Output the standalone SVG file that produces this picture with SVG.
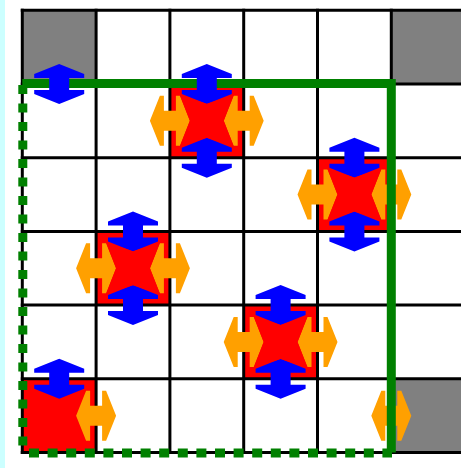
<svg xmlns="http://www.w3.org/2000/svg" xmlns:xlink="http://www.w3.org/1999/xlink" width="461" height="468" viewBox="0 0 461 468">
  <style>
    .gl { stroke: #000; stroke-width: 3; stroke-linecap: square; }
    .gray { fill: #808080; }
    .red { fill: #ff0000; }
    .blue { fill: #0000ff; }
    .orange { fill: #ffa000; }
    .path { fill: none; stroke: #008000; stroke-width: 9; stroke-linejoin: miter; }
  </style>
  <defs>
    <polygon id="av" points="0,-20 25,-10 25,-6 10,-6 10,6 25,6 25,10 0,20 -25,10 -25,6 -10,6 -10,-6 -25,-6 -25,-10"/>
    <polygon id="ah" points="-20,0 -10,-25 -6,-25 -6,-10 6,-10 6,-25 10,-25 20,0 10,25 6,25 6,10 -6,10 -6,25 -10,25"/>
    <polygon id="star" points="-27,-26 0,-17 27,-26 17,0 27,26 0,17 -27,26 -17,0"/>
  </defs>
  <rect x="0" y="0" width="461" height="468" fill="#ffffff"/>
  <rect x="0" y="0" width="5" height="468" fill="#ccffff"/>

  <g id="cells">
    <rect id="cell-0-0" class="gray" x="22.3" y="10.3" width="73.8" height="73.7"/>
    <rect id="cell-5-0" class="gray" x="391.3" y="10.3" width="73.8" height="73.7"/>
    <rect id="cell-5-5" class="gray" x="391.3" y="378.8" width="73.8" height="73.7"/>
    <rect id="cell-2-1" class="red" x="169.9" y="84" width="73.8" height="73.7"/>
    <rect id="cell-4-2" class="red" x="317.5" y="157.7" width="73.8" height="73.7"/>
    <rect id="cell-1-3" class="red" x="96.1" y="231.4" width="73.8" height="73.7"/>
    <rect id="cell-3-4" class="red" x="243.7" y="305.1" width="73.8" height="73.7"/>
    <rect id="cell-0-5" class="red" x="22.3" y="378.8" width="73.8" height="73.7"/>
  </g>

  <g id="grid">
    <line class="gl" x1="22.3" y1="10.3" x2="22.3" y2="452.5"/>
    <line class="gl" x1="96.1" y1="10.3" x2="96.1" y2="452.5"/>
    <line class="gl" x1="169.9" y1="10.3" x2="169.9" y2="452.5"/>
    <line class="gl" x1="243.7" y1="10.3" x2="243.7" y2="452.5"/>
    <line class="gl" x1="317.5" y1="10.3" x2="317.5" y2="452.5"/>
    <line class="gl" x1="391.3" y1="10.3" x2="391.3" y2="452.5"/>
    <line class="gl" x1="22.3" y1="10.3" x2="463" y2="10.3"/>
    <line class="gl" x1="22.3" y1="84" x2="463" y2="84"/>
    <line class="gl" x1="22.3" y1="157.7" x2="463" y2="157.7"/>
    <line class="gl" x1="22.3" y1="231.4" x2="463" y2="231.4"/>
    <line class="gl" x1="22.3" y1="305.1" x2="463" y2="305.1"/>
    <line class="gl" x1="22.3" y1="378.8" x2="463" y2="378.8"/>
    <line class="gl" x1="22.3" y1="452.5" x2="463" y2="452.5"/>
  </g>

  <g id="orange-arrows" class="orange">
    <use xlink:href="#ah" x="169.9" y="120.85"/>
    <use xlink:href="#ah" x="243.7" y="120.85"/>
    <use xlink:href="#ah" x="317.5" y="194.55"/>
    <use xlink:href="#ah" x="391.3" y="194.55"/>
    <use xlink:href="#ah" x="96.1" y="268.25"/>
    <use xlink:href="#ah" x="169.9" y="268.25"/>
    <use xlink:href="#ah" x="243.7" y="341.95"/>
    <use xlink:href="#ah" x="317.5" y="341.95"/>
    <use xlink:href="#ah" x="96.1" y="415.65"/>
    <use xlink:href="#ah" x="391.3" y="415.65"/>
  </g>

  <g id="connectors">
    <path class="path" d="M22.3 83.5 H391.3 V452.5"/>
    <path class="path" d="M22.8 85 V452.5" stroke-dasharray="9 9.5"/>
    <path class="path" d="M29 453 H392" stroke-width="10" stroke-dasharray="10 8.6"/>
  </g>

  <g id="blue-arrows" class="blue">
    <use xlink:href="#av" x="59.2" y="84"/>
    <use xlink:href="#av" x="206.8" y="84"/>
    <use xlink:href="#av" x="206.8" y="157.7"/>
    <use xlink:href="#av" x="354.4" y="157.7"/>
    <use xlink:href="#av" x="354.4" y="231.4"/>
    <use xlink:href="#av" x="133" y="231.4"/>
    <use xlink:href="#av" x="133" y="305.1"/>
    <use xlink:href="#av" x="280.6" y="305.1"/>
    <use xlink:href="#av" x="280.6" y="378.8"/>
    <use xlink:href="#av" x="59.2" y="378.8"/>
  </g>

  <g id="robots" class="red">
    <g id="robot-2-1"><use xlink:href="#star" x="206.8" y="120.85"/></g>
    <g id="robot-4-2"><use xlink:href="#star" x="354.4" y="194.55"/></g>
    <g id="robot-1-3"><use xlink:href="#star" x="133" y="268.25"/></g>
    <g id="robot-3-4"><use xlink:href="#star" x="280.6" y="341.95"/></g>
  </g>
</svg>
